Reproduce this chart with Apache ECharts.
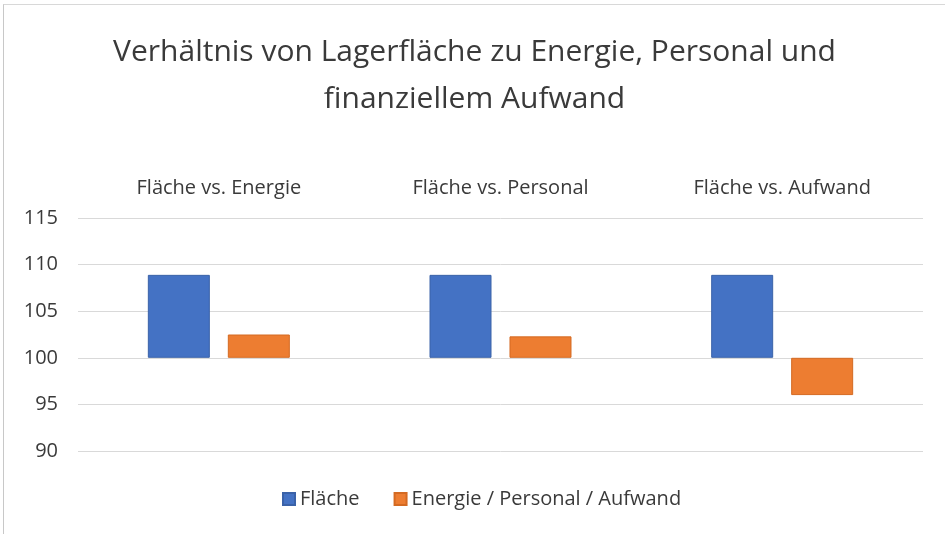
<!DOCTYPE html>
<html>
<head>
<meta charset="utf-8">
<script src="https://cdn.jsdelivr.net/npm/echarts@6/dist/echarts.min.js"></script>
<style>
  html, body { margin: 0; padding: 0; background: #fff; }
  #chart { width: 942px; height: 530px; box-sizing: border-box; border-left: 1px solid #c8c8c8; border-top: 1px solid #d8d8d8; margin-top: 4px; margin-left: 3px; }
</style>
</head>
<body>
<div id="chart"></div>
<script>
// categories and values
var categories = ['Fläche vs. Energie', 'Fläche vs. Personal', 'Fläche vs. Aufwand']
var flaeche = [108.9, 108.9, 108.9]
var vergleich = [102.5, 102.3, 96.0]
var baseline = 100

var chart = echarts.init(document.getElementById('chart'))
var font = 'Open Sans'
chart.setOption({
  backgroundColor: '#fff',
  title: {
    text: 'Verhältnis von Lagerfläche zu Energie, Personal und\nfinanziellem Aufwand',
    left: 'center',
    top: 19,
    textStyle: {
      fontFamily: font,
      fontSize: 30,
      fontWeight: 'normal',
      color: '#3a3a3a',
      lineHeight: 47
    }
  },
  legend: {
    bottom: 20,
    left: 273,
    itemWidth: 12,
    itemHeight: 12,
    itemGap: 34,
    icon: 'rect',
    textStyle: { fontFamily: font, fontSize: 20, color: '#3a3a3a' },
    data: ['Fläche', 'Energie / Personal / Aufwand']
  },
  grid: { left: 74, right: 22, top: 213, bottom: 83 },
  xAxis: {
    type: 'category',
    position: 'top',
    data: categories,
    axisLine: { show: false },
    axisTick: { show: false },
    axisLabel: { fontFamily: font, fontSize: 20, color: '#3a3a3a', margin: 20 }
  },
  yAxis: {
    type: 'value',
    min: -10,
    max: 15,
    interval: 5,
    axisLine: { show: false },
    axisTick: { show: false },
    splitLine: { lineStyle: { color: '#d9d9d9', width: 1 } },
    axisLabel: {
      fontFamily: font, fontSize: 20, color: '#3a3a3a', margin: 20,
      formatter: function(v) { return v + baseline }
    }
  },
  series: [{
    name: 'Fläche',
    type: 'bar',
    barWidth: 62,
    barGap: '29%',
    itemStyle: { color: '#4472C4', borderColor: '#3a62a8', borderWidth: 1 },
    data: flaeche.map(function(v) { return +(v - baseline).toFixed(2) })
  }, {
    name: 'Energie / Personal / Aufwand',
    type: 'bar',
    barWidth: 62,
    itemStyle: { color: '#ED7D31', borderColor: '#d46a22', borderWidth: 1 },
    data: vergleich.map(function(v) { return +(v - baseline).toFixed(2) })
  }]
})
</script>
</body>
</html>
